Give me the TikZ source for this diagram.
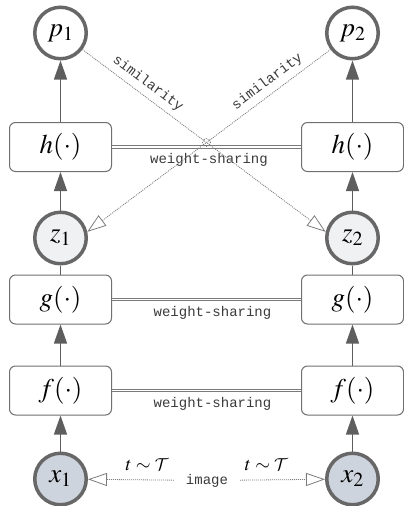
\documentclass[tikz,border=0pt]{standalone}
\usepackage{mathptmx}
\DeclareMathAlphabet{\mathcal}{OMS}{cmsy}{m}{n}
\usepackage{fontspec}
\newfontfamily\monof{Liberation Mono}
\usetikzlibrary{arrows.meta}
\definecolor{circc}{HTML}{676767}
\definecolor{boxc}{HTML}{707070}
\definecolor{arrc}{HTML}{5E5E5E}
\definecolor{wsc}{HTML}{7A7A7A}
\definecolor{simc}{HTML}{7C7C7C}
\definecolor{labc}{HTML}{3A3A3A}
\definecolor{zfill}{HTML}{F0F1F3}
\definecolor{xfill}{HTML}{CED4DD}
\begin{document}
\begin{tikzpicture}[x=1pt,y=-1pt,
  box/.style={draw=boxc, line width=1pt, rounded corners=6pt, minimum width=102pt,
    minimum height=49pt, fill=white, inner sep=0pt, font=\fontsize{27}{30}\selectfont},
  circ/.style={circle, draw=circc, line width=3.5pt, minimum size=51.5pt, inner sep=0pt,
    font=\fontsize{27}{30}\selectfont},
  up/.style={-{Triangle[length=19pt,width=13pt]}, draw=arrc, line width=1.3pt},
  plain/.style={draw=arrc, line width=1.3pt},
  ws/.style={draw=wsc, double=white, double distance=1.5pt, line width=0.9pt},
  simline/.style={draw=simc, line width=0.8pt, dash pattern=on 1pt off 1pt},
  sim/.style={simline, -{Triangle[open, length=19pt, width=13pt]}},
  lab/.style={font=\monof\fontsize{14}{16}\selectfont, text=labc},
  tlab/.style={font=\fontsize{19}{22}\selectfont, text=black}
]
\useasboundingbox (0,0) rectangle (404,506);

% left column
\node[circ, fill=white] (p1) at (60.5,33) {$p_1$};
\node[box] (h1) at (60.5,147) {$h(\cdot)$};
\node[circ, fill=zfill] (z1) at (60.5,238) {$z_1$};
\node[box] (g1) at (60.5,299.5) {$g(\cdot)$};
\node[box] (f1) at (60.5,390.5) {$f(\cdot)$};
\node[circ, fill=xfill] (x1) at (60.5,479) {$x_1$};

% right column
\node[circ, fill=white] (p2) at (352.5,33) {$p_2$};
\node[box] (h2) at (352.5,147) {$h(\cdot)$};
\node[circ, fill=zfill] (z2) at (352.5,238) {$z_2$};
\node[box] (g2) at (352.5,299.5) {$g(\cdot)$};
\node[box] (f2) at (352.5,390.5) {$f(\cdot)$};
\node[circ, fill=xfill] (x2) at (352.5,479) {$x_2$};

% vertical connectors
\draw[up] (x1) -- (f1);
\draw[up] (f1) -- (g1);
\draw[plain] (z1) -- (g1);
\draw[up] (z1) -- (h1);
\draw[up] (h1) -- (p1);
\draw[up] (x2) -- (f2);
\draw[up] (f2) -- (g2);
\draw[plain] (z2) -- (g2);
\draw[up] (z2) -- (h2);
\draw[up] (h2) -- (p2);

% weight sharing
\draw[ws] (h1) -- node[lab, below=3pt, xshift=2.5pt] (wsh) {weight-sharing} (h2);
\draw[ws] (g1) -- node[lab, below=3pt, xshift=6pt] (wsg) {weight-sharing} (g2);
\draw[ws] (f1) -- node[lab, below=3pt, xshift=6pt] (wsf) {weight-sharing} (f2);

% similarity
\draw[sim] (p1.-37) -- node[lab, sloped, above, pos=0.24, inner ysep=5pt] (s1) {similarity} (z2.167);
\draw[sim] (p2.-143) -- node[lab, sloped, above, pos=0.23, inner ysep=5pt] (s2) {similarity} (z1.13);
\coordinate (cross) at (206.5,142.5);
\draw[simline] (cross) circle (4pt);

% image and transformations
\node[lab, inner xsep=12pt] (img) at (207,480.5) {image};
\draw[sim] (img) -- node[tlab, above=5pt, pos=0.31] (t1) {$t\sim\mathcal{T}$} (x1);
\draw[sim] (img) -- node[tlab, above=5pt, pos=0.31] (t2) {$t\sim\mathcal{T}$} (x2);
\end{tikzpicture}
\end{document}
